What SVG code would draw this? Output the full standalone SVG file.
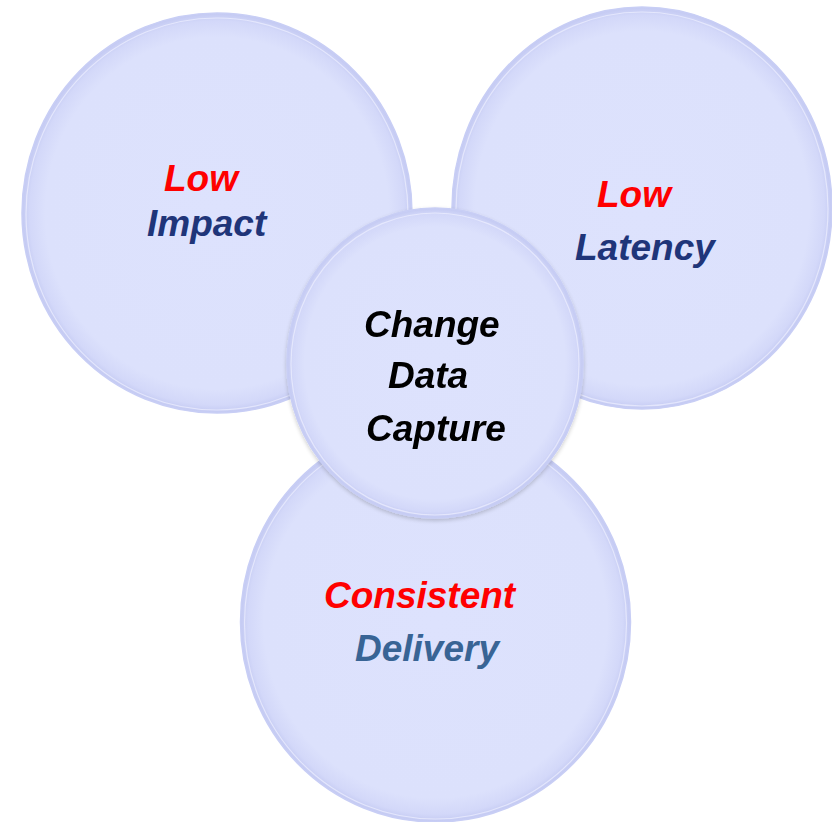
<svg xmlns="http://www.w3.org/2000/svg" width="832" height="822" viewBox="0 0 832 822">
<style>
.bubble{fill:url(#g);stroke:#c8cef5;stroke-width:1.5}
.rim{fill:none;stroke:#eef0ff;stroke-width:1.2;opacity:0.7}
text{font-family:"Liberation Sans",Arial,sans-serif;font-weight:bold;font-style:italic;font-size:37px}
.red{fill:#ff0000}
.navy{fill:#1f3579}
.black{fill:#000000}
.steel{fill:#386495}
</style>
<defs>
<radialGradient id="g" cx="50%" cy="50%" r="50%">
<stop offset="0" stop-color="#dde2fd"/>
<stop offset="0.88" stop-color="#dce1fc"/>
<stop offset="0.96" stop-color="#d3d8f9"/>
<stop offset="1" stop-color="#c3c9f2"/>
</radialGradient>
<filter id="sh" x="-10%" y="-10%" width="120%" height="125%">
<feGaussianBlur in="SourceAlpha" stdDeviation="2"/>
<feOffset dy="2"/>
<feComponentTransfer><feFuncA type="linear" slope="0.2"/></feComponentTransfer>
<feMerge><feMergeNode/><feMergeNode in="SourceGraphic"/></feMerge>
</filter>
</defs>
<g id="connectors"></g>
<g id="low-impact">
<ellipse class="bubble" cx="217" cy="213" rx="195" ry="200"/>
<ellipse class="rim" cx="217" cy="214" rx="191" ry="196"/>
<text x="164" y="191" class="red">Low</text>
<text x="147" y="236" class="navy">Impact</text>
</g>
<g id="low-latency">
<ellipse class="bubble" cx="642" cy="208" rx="190" ry="201"/>
<ellipse class="rim" cx="642" cy="209" rx="186" ry="197"/>
<text x="597" y="207" class="red">Low</text>
<text x="575" y="260" class="navy">Latency</text>
</g>
<g id="consistent-delivery">
<ellipse class="bubble" cx="435.5" cy="622" rx="195" ry="200"/>
<ellipse class="rim" cx="435.5" cy="623" rx="191" ry="196"/>
<text x="324" y="608" class="red">Consistent</text>
<text x="355" y="661" class="steel">Delivery</text>
</g>
<g id="change-data-capture" filter="url(#sh)">
<ellipse class="bubble" cx="435" cy="363" rx="148" ry="155"/>
<ellipse class="rim" cx="435" cy="364" rx="144" ry="151"/>
<text x="364" y="337" class="black">Change</text>
<text x="388" y="388" class="black">Data</text>
<text x="366" y="441" class="black">Capture</text>
</g>
</svg>
